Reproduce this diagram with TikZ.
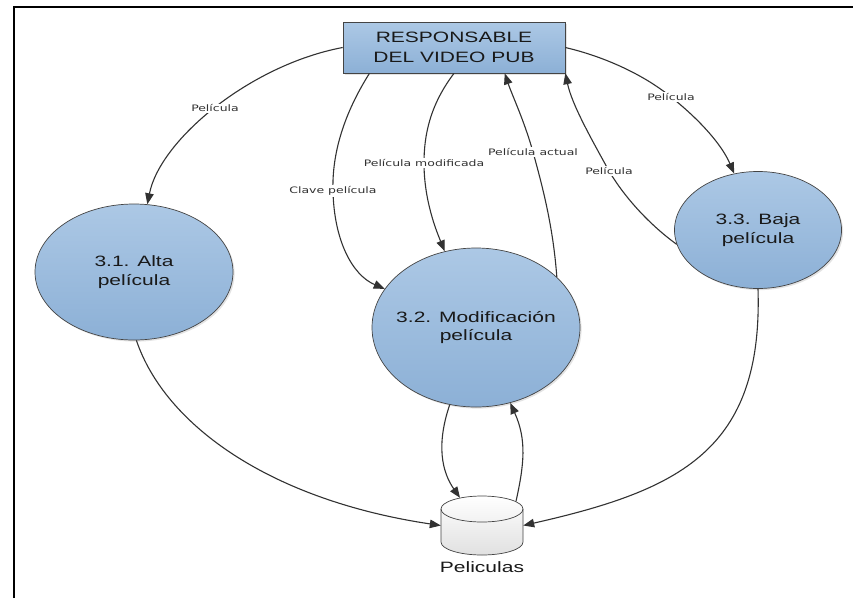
\documentclass[tikz,border=0pt]{standalone}
\usepackage{fontspec}
\newfontfamily\shapefont[FakeStretch=1.4]{Liberation Sans}
\newfontfamily\flowfont[FakeStretch=1.4]{DejaVu Sans}
\usetikzlibrary{shapes.geometric,arrows.meta,shadows,calc}
\definecolor{procTop}{RGB}{172,200,229}
\definecolor{procBot}{RGB}{140,176,214}
\definecolor{edgeGray}{RGB}{50,50,50}
\definecolor{rimGray}{RGB}{68,68,68}
\definecolor{inkGray}{RGB}{25,25,25}

\begin{document}
\begin{tikzpicture}[x=1pt,y=-1pt,
  softshadow/.style={drop shadow={opacity=0.22, shadow xshift=1.6pt, shadow yshift=-1.6pt}},
  process/.style={ellipse, draw=rimGray, line width=0.7pt, top color=procTop,
    bottom color=procBot, inner sep=0pt, softshadow},
  entity/.style={rectangle, draw=rimGray, line width=0.7pt, top color=procTop,
    bottom color=procBot, inner sep=0pt, minimum width=222pt, minimum height=51pt,
    align=center, text=inkGray, font=\shapefont\fontsize{15}{20.5}\selectfont, softshadow},
  storebox/.style={rectangle, inner sep=0pt, minimum width=82pt, minimum height=59pt},
  storeskin/.style={draw=rimGray, line width=0.7pt, top color=white, bottom color=black!12},
  captext/.style={align=center, text=inkGray, inner sep=0pt,
    font=\shapefont\fontsize{15}{18.5}\selectfont},
  flow/.style={draw=edgeGray, line width=1.1pt,
    -{Triangle[length=11pt,width=8.5pt]}},
  lbl/.style={fill=white, inner sep=1.2pt, text=edgeGray,
    font=\flowfont\fontsize{8.9}{10}\selectfont},
]
\useasboundingbox (0,0) rectangle (853,598);
\fill[white] (0,0) rectangle (853,598);

% page frame
\draw[line width=2pt, black] (14,598) -- (14,6.7) -- (853,6.7);

% external entity and processes
\node[entity] (box) at (454,47.5) {RESPONSABLE\\DEL VIDEO PUB};
\node[process, minimum width=198pt, minimum height=136pt,
      label={[captext]center:3.1. Alta\\película}] (e31) at (134,272) {};
\node[process, minimum width=208pt, minimum height=159pt,
      label={[captext]center:3.2. Modificación\\película}] (e32) at (476,327.5) {};
\node[process, minimum width=167pt, minimum height=117pt,
      label={[captext]center:3.3. Baja\\película}] (e33) at (758,230) {};

% data store: a cylinder drawn inside the frame of node db
\node[storebox, label={[captext, label distance=6pt]below:Peliculas}] (db) at (482,525.5) {};
\shadedraw[storeskin] (441,509) -- (441,542)
  arc[start angle=180, end angle=0, x radius=41, y radius=13] -- (523,509)
  arc[start angle=0, end angle=-180, x radius=41, y radius=13] -- cycle;
\draw[draw=rimGray, line width=0.7pt] (441,509)
  arc[start angle=180, end angle=0, x radius=41, y radius=13];

% data flows
\draw[flow] (box.west) .. controls (250,65) and (160,140) .. (e31)
  node[lbl, pos=0.5] {Película};
\draw[flow] (box.197) .. controls (340,120) and (332,160) .. (333,191)
  node[lbl] {Clave película} .. controls (334,240) and (352,275) .. (e32);
\draw[flow] (box.south) .. controls (430,105) and (424,135) .. (424,163)
  node[lbl] {Película modificada} .. controls (424,200) and (436,230) .. (e32);
\draw[flow] (e32.32) .. controls (553,225) and (542,185) .. (533,152)
  node[lbl] {Película actual} .. controls (524,120) and (512,95) .. (box.333);
\draw[flow] (e33.190) .. controls (650,225) and (625,198) .. (609,171)
  node[lbl] {Película} .. controls (592,140) and (572,105) .. (box.347);
\draw[flow] (box.east) .. controls (610,58) and (648,78) .. (671,97)
  node[lbl] {Película} .. controls (700,120) and (722,145) .. (e33);
\draw[flow] (e31.272) .. controls (165,425) and (270,500) .. (db.west);
\draw[flow] (e32) .. controls (436,445) and (442,472) .. ($(db.north)+(-22,2)$);
\draw[flow] ($(db.north)+(34,5.5)$) .. controls (524,465) and (527,440) .. (e32);
\draw[flow] (e33.270) .. controls (763,450) and (680,490) .. (db.east);
\end{tikzpicture}
\end{document}
